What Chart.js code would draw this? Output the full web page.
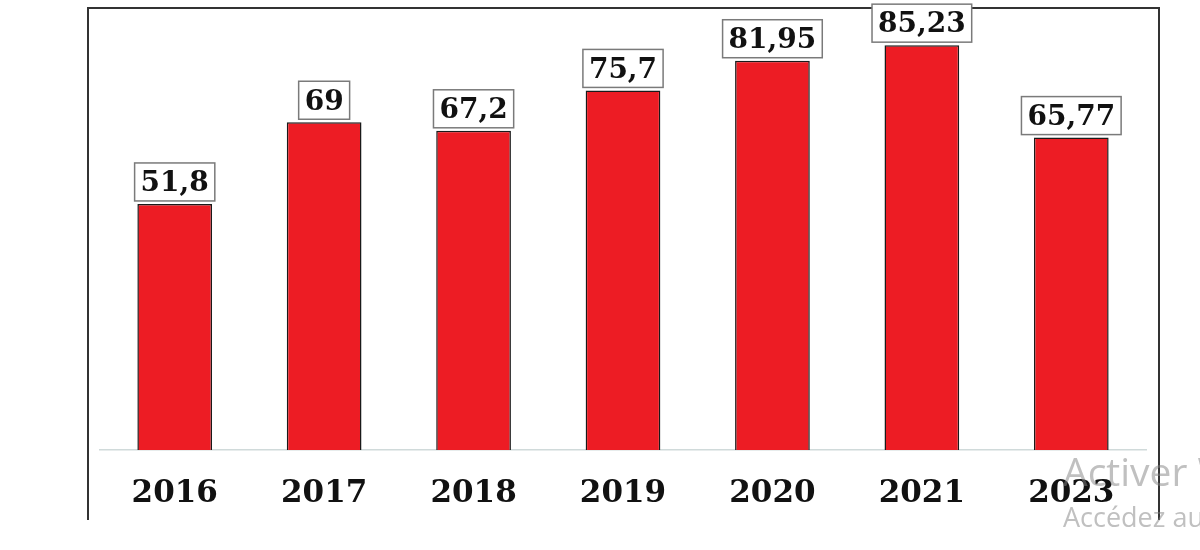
<!DOCTYPE html>
<html>
<head>
<meta charset="utf-8">
<script src="https://cdn.jsdelivr.net/npm/chart.js@4.4.0/dist/chart.umd.min.js"></script>
<style>
  html, body { margin: 0; padding: 0; background: #fff; overflow: hidden; }
  #wrap { position: relative; width: 1200px; height: 550px; }
  #frame { position: absolute; left: 87px; top: 7px; width: 1073px; height: 513px;
           border-left: 2px solid #333; border-top: 2px solid #333; border-right: 2px solid #333; box-sizing: border-box; }
  canvas { position: absolute; left: 0; top: 0; }
  .wm1 { position: absolute; left: 1063px; top: 444px; font: 39px "Open Sans", sans-serif; color: rgba(130,130,130,0.5); white-space: nowrap; }
  .wm2 { position: absolute; left: 1063px; top: 498px; font: 27px "Open Sans", sans-serif; color: rgba(130,130,130,0.5); white-space: nowrap; }
</style>
</head>
<body>
<div id="wrap">
  <div id="frame"></div>
  <canvas id="c" width="1200" height="550"></canvas>
  <div class="wm1">Activer Windows</div>
  <div class="wm2">Accédez aux paramètres</div>
</div>
<script>
const categories = ["2016", "2017", "2018", "2019", "2020", "2021", "2023"];
const values = [51.8, 69, 67.2, 75.7, 81.95, 85.23, 65.77];
const valueLabels = ["51,8", "69", "67,2", "75,7", "81,95", "85,23", "65,77"];

const serif = '"DejaVu Serif", "Liberation Serif", serif';

const boxLabels = {
  id: 'boxLabels',
  afterDatasetsDraw(chart) {
    const ctx = chart.ctx;
    const meta = chart.getDatasetMeta(0);
    ctx.save();
    ctx.font = 'bold 28px ' + serif;
    ctx.textAlign = 'center';
    ctx.textBaseline = 'middle';
    meta.data.forEach((bar, i) => {
      const txt = valueLabels[i];
      const w = ctx.measureText(txt).width + 12;
      const h = 38;
      const bottom = bar.y - 3;
      const x0 = bar.x - w / 2;
      ctx.fillStyle = '#fff';
      ctx.fillRect(x0, bottom - h, w, h);
      ctx.strokeStyle = '#7a7a7a';
      ctx.lineWidth = 1.5;
      ctx.strokeRect(x0, bottom - h, w, h);
      ctx.fillStyle = '#111';
      ctx.fillText(txt, bar.x, bottom - h / 2 + 2);
    });
    ctx.restore();
  }
};

new Chart(document.getElementById('c'), {
  type: 'bar',
  data: {
    labels: categories,
    datasets: [{
      data: values,
      backgroundColor: '#ED1C24',
      borderColor: '#1a1a1a',
      borderWidth: 1.5,
      categoryPercentage: 1,
      barPercentage: 0.5
    }]
  },
  options: {
    responsive: false,
    animation: false,
    layout: { padding: { left: 100, right: 54, top: 13, bottom: 10 } },
    plugins: { legend: { display: false }, tooltip: { enabled: false } },
    scales: {
      x: {
        grid: { display: false, drawTicks: false },
        border: { display: true, color: '#d0dada', width: 1.5 },
        ticks: { color: '#111', font: { family: serif, size: 31, weight: 'bold' }, padding: 25 },
        afterFit(scale) { scale.height = 90; }
      },
      y: {
        display: false,
        min: 0,
        max: 92
      }
    }
  },
  plugins: [boxLabels]
});
</script>
</body>
</html>
